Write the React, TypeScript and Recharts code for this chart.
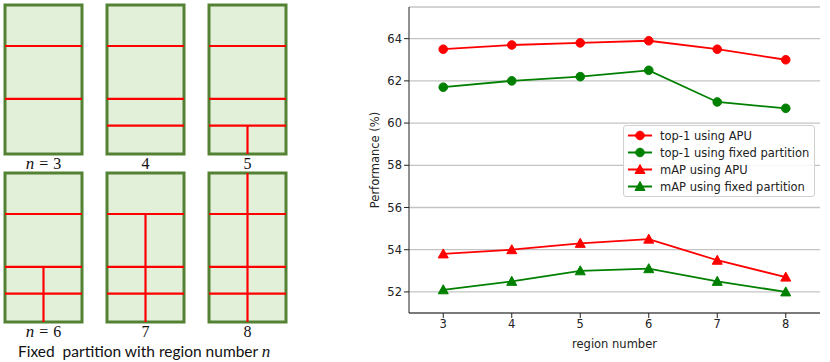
import {
  LineChart,
  Line,
  ComposedChart,
  Scatter,
  ReferenceArea,
  ReferenceLine,
  XAxis,
  YAxis,
  CartesianGrid,
} from 'recharts';

// fixed partition diagrams (fractions of rectangle height, 0 = top)
const partitionLabels = ['n = 3', '4', '5', 'n = 6', '7', '8'];
const partitionHLines = [
  [0.275, 0.63],
  [0.275, 0.63, 0.81],
  [0.275, 0.63, 0.81],
  [0.275, 0.63, 0.81],
  [0.275, 0.63, 0.81],
  [0.275, 0.63, 0.81],
];
const partitionVLine: ([number, number] | null)[] = [null, null, [0.81, 1], [0.63, 1], [0.275, 1], [0, 1]];
const unitCorners = [
  { x: 0, y: 0 },
  { x: 1, y: 1 },
];

// performance curves
const regions = [3, 4, 5, 6, 7, 8];
const top1Apu = [63.5, 63.7, 63.8, 63.9, 63.5, 63.0];
const top1Fixed = [61.7, 62.0, 62.2, 62.5, 61.0, 60.7];
const mapApu = [53.8, 54.0, 54.3, 54.5, 53.5, 52.7];
const mapFixed = [52.1, 52.5, 53.0, 53.1, 52.5, 52.0];
const yTicks = [52, 54, 56, 58, 60, 62, 64];

const RED = '#ff0000';
const GREEN = '#008000';
const FONT = '"DejaVu Sans", sans-serif';
const FS = 11.5;

const series = [
  { key: 'top1Apu', name: 'top-1 using APU', color: RED, marker: 'circle' },
  { key: 'top1Fixed', name: 'top-1 using fixed partition', color: GREEN, marker: 'circle' },
  { key: 'mapApu', name: 'mAP using APU', color: RED, marker: 'triangle' },
  { key: 'mapFixed', name: 'mAP using fixed partition', color: GREEN, marker: 'triangle' },
];

const Marker = ({ cx, cy, color, marker }: any) => {
  if (cx == null || cy == null) return null;
  if (marker === 'triangle') {
    return (
      <polygon
        points={`${cx},${cy - 5} ${cx - 5},${cy + 4} ${cx + 5},${cy + 4}`}
        fill={color}
        stroke={color}
      />
    );
  }
  return <circle cx={cx} cy={cy} r={4.3} fill={color} stroke={color} />;
};

function LegendBox() {
  return (
    <div
      style={{
        width: 190,
        border: '1px solid #d0d0d0',
        borderRadius: 3,
        background: 'rgba(255,255,255,0.85)',
        padding: '1px 0',
        fontFamily: FONT,
        fontSize: FS,
        color: '#222',
      }}
    >
      {series.map((s) => (
        <div key={s.key} style={{ height: 17, display: 'flex', alignItems: 'center' }}>
          <svg width={36} height={17} style={{ flex: 'none' }}>
            <line x1={4} x2={28} y1={8.5} y2={8.5} stroke={s.color} strokeWidth={2} />
            <Marker cx={16} cy={8.5} color={s.color} marker={s.marker} />
          </svg>
          <span style={{ whiteSpace: 'nowrap' }}>{s.name}</span>
        </div>
      ))}
    </div>
  );
}

function Partition({ idx }: { idx: number }) {
  const v = partitionVLine[idx];
  return (
    <ComposedChart width={81} height={153} margin={{ top: 2, right: 2, bottom: 2, left: 2 }}>
      <XAxis type="number" dataKey="x" domain={[0, 1]} hide />
      <YAxis type="number" dataKey="y" domain={[0, 1]} reversed hide />
      <ReferenceArea x1={0} x2={1} y1={0} y2={1} fill="#e2efd9" fillOpacity={1} stroke="#548235" strokeWidth={3} />
      {partitionHLines[idx].map((f) => (
        <ReferenceLine
          key={f}
          segment={[
            { x: 0, y: f },
            { x: 1, y: f },
          ]}
          stroke={RED}
          strokeWidth={2.2}
        />
      ))}
      {v && (
        <ReferenceLine
          segment={[
            { x: 0.5, y: v[0] },
            { x: 0.5, y: v[1] },
          ]}
          stroke={RED}
          strokeWidth={2.2}
        />
      )}
      <Scatter data={unitCorners} dataKey="y" fill="none" shape={() => <g />} isAnimationActive={false} />
    </ComposedChart>
  );
}

function PartitionLabel({ text }: { text: string }) {
  const m = text.match(/^n = (\d)$/);
  return (
    <div style={{ fontFamily: '"Liberation Serif", serif', fontSize: 16, lineHeight: '18px', color: '#111', textAlign: 'center' }}>
      {m ? (
        <>
          <i style={{ fontSize: 17 }}>n</i>
          <span style={{ margin: '0 5px' }}>=</span>
          {m[1]}
        </>
      ) : (
        text
      )}
    </div>
  );
}

export default function App() {
  const data = regions.map((r, i) => ({
    region: r,
    top1Apu: top1Apu[i],
    top1Fixed: top1Fixed[i],
    mapApu: mapApu[i],
    mapFixed: mapFixed[i],
  }));

  const cols = [3, 105, 207];
  const rows = [3, 171];
  const labelTops = [154.5, 323];

  return (
    <div style={{ position: 'absolute', left: 0, top: 0, width: 830, height: 362, background: '#fff', overflow: 'hidden' }}>
      {partitionLabels.map((lab, i) => {
        const left = cols[i % 3];
        const r = Math.floor(i / 3);
        return (
          <div key={i}>
            <div style={{ position: 'absolute', left, top: rows[r] }}>
              <Partition idx={i} />
            </div>
            <div style={{ position: 'absolute', left, top: labelTops[r], width: 81 }}>
              <PartitionLabel text={lab} />
            </div>
          </div>
        );
      })}
      <div
        style={{
          position: 'absolute',
          left: 18,
          top: 342,
          fontFamily: 'Lato, sans-serif',
          fontSize: 15.5,
          lineHeight: '19px',
          color: '#111',
          whiteSpace: 'pre',
        }}
      >
        {'Fixed  partition with region number '}
        <i style={{ fontFamily: '"Liberation Serif", serif', fontSize: 17 }}>n</i>
      </div>

      <div style={{ position: 'absolute', left: 320, top: 0 }}>
        <LineChart width={510} height={362} data={data} margin={{ top: 7, right: 10, bottom: 14, left: 39 }}>
          <CartesianGrid vertical={false} stroke="#c4c4c4" strokeWidth={1.3} />
          <XAxis
            dataKey="region"
            type="number"
            domain={[2.5, 8.5]}
            ticks={regions}
            height={35}
            tickSize={5}
            stroke="#222"
            tick={{ fill: '#222', fontSize: FS, fontFamily: FONT }}
            label={{ value: 'region number', position: 'insideBottom', offset: 0, fill: '#222', fontSize: FS, fontFamily: FONT }}
          />
          <XAxis xAxisId="top" orientation="top" type="number" domain={[2.5, 8.5]} height={0} tick={false} tickLine={false} stroke="#222" />
          <YAxis
            type="number"
            domain={[51, 65.5]}
            ticks={yTicks}
            width={50}
            tickSize={5}
            stroke="#222"
            tick={{ fill: '#222', fontSize: FS, fontFamily: FONT }}
            label={{
              value: 'Performance (%)',
              angle: -90,
              position: 'insideLeft',
              offset: 16,
              fill: '#222',
              fontSize: FS,
              fontFamily: FONT,
              style: { textAnchor: 'middle' },
            }}
          />
          <YAxis yAxisId="right" orientation="right" type="number" domain={[51, 65.5]} width={0} tick={false} tickLine={false} stroke="#222" />
          {series.map((s) => (
            <Line
              key={s.key}
              type="linear"
              dataKey={s.key}
              name={s.name}
              stroke={s.color}
              strokeWidth={1.8}
              dot={(p: any) => <Marker key={`${s.key}-${p.index}`} cx={p.cx} cy={p.cy} color={s.color} marker={s.marker} />}
              activeDot={false}
              isAnimationActive={false}
            />
          ))}
        </LineChart>
      </div>
      <div style={{ position: 'absolute', left: 623, top: 125 }}>
        <LegendBox />
      </div>
    </div>
  );
}
